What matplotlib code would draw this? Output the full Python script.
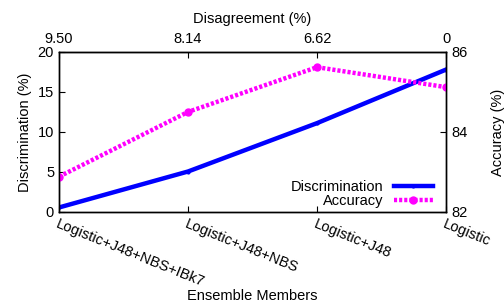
import matplotlib.pyplot as plt

plt.rcParams['font.family'] = ['Liberation Sans', 'DejaVu Sans']

members = ['Logistic+J48+NBS+IBk7', 'Logistic+J48+NBS', 'Logistic+J48', 'Logistic']
disagreement = ['9.50', '8.14', '6.62', '0']
discrimination = [0.55, 5.05, 11.1, 17.8]
accuracy = [82.88, 84.5, 85.62, 85.12]

x = list(range(len(members)))
fs = 10.5

fig = plt.figure(figsize=(5.04, 3.04), dpi=100)
ax = fig.add_axes([0.117, 0.303, 0.768, 0.526])
ax2 = ax.twinx()

l1, = ax.plot(x, discrimination, '-', color='#0000ff', lw=3.2, marker='o', markersize=2, label='Discrimination')
l2, = ax2.plot(x, accuracy, color='#ff00ff', lw=3.2, ls=(0, (0.7, 0.45)), marker='o', markersize=5, label='Accuracy')

ax.set_xlim(0, 3)
ax.set_ylim(0, 20)
ax2.set_ylim(82, 86)
ax.set_yticks([0, 5, 10, 15, 20])
ax2.set_yticks([82, 84, 86])
ax.set_xticks(x)
ax.set_xticklabels(members, rotation=-22, ha='left', va='top', rotation_mode='anchor')

top = ax.secondary_xaxis('top')
top.set_xticks(x)
top.set_xticklabels(disagreement)
top.set_xlabel('Disagreement (%)', fontsize=fs, labelpad=7)
top.tick_params(direction='in', length=4, labelsize=fs, pad=4)

for a in (ax, ax2):
    a.tick_params(direction='in', length=4, labelsize=fs, width=0.8)
    for s in a.spines.values():
        s.set_linewidth(1.0)
ax.tick_params(axis='x', pad=4)

ax.set_ylabel('Discrimination (%)', fontsize=fs, labelpad=4)
ax2.set_ylabel('Accuracy (%)', fontsize=fs, labelpad=17)
ax.set_xlabel('Ensemble Members', fontsize=fs)
ax.xaxis.set_label_coords(0.5, -0.485)

leg = ax2.legend([l1, l2], ['Discrimination', 'Accuracy'], loc='lower right',
                 bbox_to_anchor=(1.0, -0.06), frameon=False, markerfirst=False,
                 handlelength=2.7, handletextpad=0.7, labelspacing=0.05, fontsize=fs)
for t in leg.get_texts():
    t.set_ha('right')
leg._legend_box.align = 'right'

fig.savefig('out.png', dpi=100)
